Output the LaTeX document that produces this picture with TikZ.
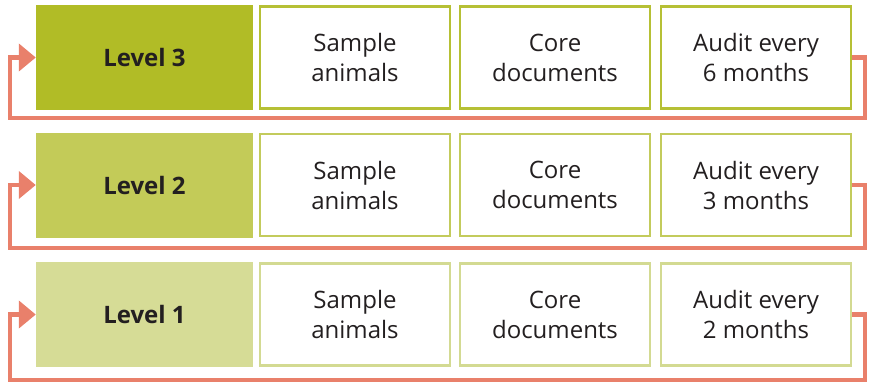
\documentclass[tikz,border=0pt]{standalone}
\usepackage{fontspec}
\setmainfont{Open Sans}
\usetikzlibrary{arrows.meta}
\definecolor{lvthree}{HTML}{B1BC26}
\definecolor{lvtwo}{HTML}{C3CB58}
\definecolor{lvone}{HTML}{D6DC96}
\definecolor{bdthree}{HTML}{B6C035}
\definecolor{bdtwo}{HTML}{C3CB5C}
\definecolor{bdone}{HTML}{D3DA92}
\definecolor{conncol}{HTML}{E9806B}
\definecolor{txt}{HTML}{231F20}
\tikzset{
  levelbox/.style={inner sep=0, minimum width=217pt, minimum height=105pt, text=txt,
    font=\fontsize{24}{28}\selectfont\bfseries},
  cellbox/.style={draw, line width=2.5pt, fill=white, inner sep=0, minimum width=190pt,
    minimum height=102pt, text=txt, align=center, font=\fontsize{24}{30}\selectfont},
  conn/.style={draw=conncol, line width=4.5pt, -{Triangle[length=17pt,width=27pt]}},
}
\begin{document}
\begin{tikzpicture}[x=1pt,y=-1pt]
\useasboundingbox (0,0) rectangle (869,383);
% row 3
\node[levelbox, fill=lvthree] (l3) at (144.5,57.5) {Level 3};
\node[cellbox, draw=bdthree] (s3) at (355,57.5) {Sample\\animals};
\node[cellbox, draw=bdthree] (c3) at (555,57.5) {Core\\documents};
\node[cellbox, draw=bdthree] (a3) at (756,57.5) {Audit every\\6 months};
% row 2
\node[levelbox, fill=lvtwo] (l2) at (144.5,185) {Level 2};
\node[cellbox, draw=bdtwo] (s2) at (355,185) {Sample\\animals};
\node[cellbox, draw=bdtwo] (c2) at (555,185) {Core\\documents};
\node[cellbox, draw=bdtwo] (a2) at (756,185) {Audit every\\3 months};
% row 1
\node[levelbox, fill=lvone] (l1) at (144.5,314.5) {Level 1};
\node[cellbox, draw=bdone] (s1) at (355,314.5) {Sample\\animals};
\node[cellbox, draw=bdone] (c1) at (555,314.5) {Core\\documents};
\node[cellbox, draw=bdone] (a1) at (756,314.5) {Audit every\\2 months};
% loop corners
\coordinate (r3) at (865,118);
\coordinate (r2) at (865,248);
\coordinate (r1) at (865,380);
\coordinate (q3) at (10,118);
\coordinate (q2) at (10,248);
\coordinate (q1) at (10,380);
\draw[conn] (a3.east) -| (r3) -- (q3) |- (l3.west);
\draw[conn] (a2.east) -| (r2) -- (q2) |- (l2.west);
\draw[conn] (a1.east) -| (r1) -- (q1) |- (l1.west);
\end{tikzpicture}
\end{document}
